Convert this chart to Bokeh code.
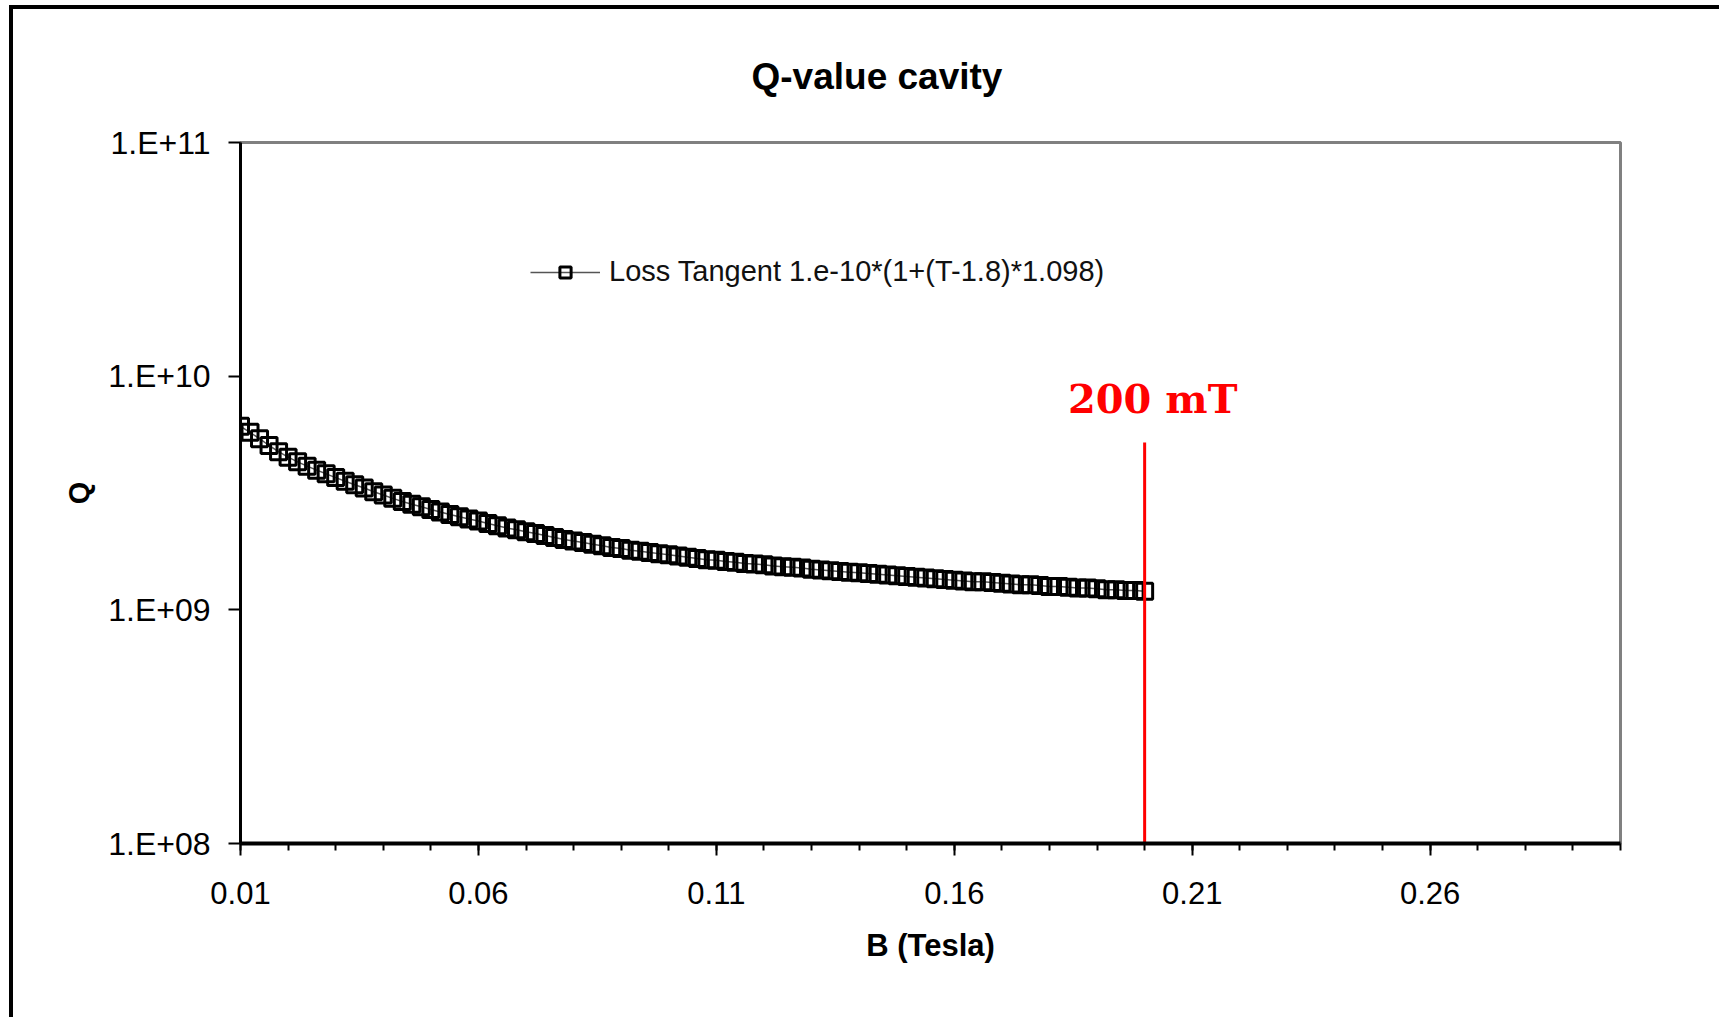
from bokeh.plotting import figure
from bokeh.models import FixedTicker, Label, Legend, LegendItem
from bokeh.embed import file_html
from bokeh.resources import INLINE

# ---- data ----
B_tesla = [
    0.010, 0.012, 0.014, 0.016, 0.018, 0.020, 0.022, 0.024, 0.026, 0.028,
    0.030, 0.032, 0.034, 0.036, 0.038, 0.040, 0.042, 0.044, 0.046, 0.048,
    0.050, 0.052, 0.054, 0.056, 0.058, 0.060, 0.062, 0.064, 0.066, 0.068,
    0.070, 0.072, 0.074, 0.076, 0.078, 0.080, 0.082, 0.084, 0.086, 0.088,
    0.090, 0.092, 0.094, 0.096, 0.098, 0.100, 0.102, 0.104, 0.106, 0.108,
    0.110, 0.112, 0.114, 0.116, 0.118, 0.120, 0.122, 0.124, 0.126, 0.128,
    0.130, 0.132, 0.134, 0.136, 0.138, 0.140, 0.142, 0.144, 0.146, 0.148,
    0.150, 0.152, 0.154, 0.156, 0.158, 0.160, 0.162, 0.164, 0.166, 0.168,
    0.170, 0.172, 0.174, 0.176, 0.178, 0.180, 0.182, 0.184, 0.186, 0.188,
    0.190, 0.192, 0.194, 0.196, 0.198, 0.200,
]
Q_value = [
    6.10e9, 5.75e9, 5.40e9, 5.05e9, 4.75e9, 4.50e9, 4.30e9, 4.12e9, 3.96e9, 3.82e9,
    3.68e9, 3.55e9, 3.43e9, 3.32e9, 3.20e9, 3.10e9, 3.00e9, 2.91e9, 2.83e9, 2.76e9,
    2.69e9, 2.62e9, 2.56e9, 2.50e9, 2.45e9, 2.40e9, 2.34e9, 2.29e9, 2.24e9, 2.20e9,
    2.16e9, 2.12e9, 2.08e9, 2.04e9, 2.00e9, 1.97e9, 1.94e9, 1.91e9, 1.88e9, 1.85e9,
    1.83e9, 1.80e9, 1.78e9, 1.76e9, 1.74e9, 1.72e9, 1.70e9, 1.68e9, 1.66e9, 1.64e9,
    1.63e9, 1.61e9, 1.60e9, 1.58e9, 1.57e9, 1.56e9, 1.54e9, 1.53e9, 1.52e9, 1.51e9,
    1.49e9, 1.48e9, 1.47e9, 1.46e9, 1.45e9, 1.44e9, 1.43e9, 1.42e9, 1.41e9, 1.40e9,
    1.39e9, 1.38e9, 1.37e9, 1.36e9, 1.35e9, 1.34e9, 1.33e9, 1.32e9, 1.32e9, 1.31e9,
    1.30e9, 1.29e9, 1.28e9, 1.28e9, 1.27e9, 1.26e9, 1.26e9, 1.25e9, 1.24e9, 1.24e9,
    1.23e9, 1.22e9, 1.22e9, 1.21e9, 1.21e9, 1.20e9,
]
series_label = "Loss Tangent 1.e-10*(1+(T-1.8)*1.098)"
chart_title = "Q-value cavity"

x_major_ticks = [0.01, 0.06, 0.11, 0.16, 0.21, 0.26]
x_minor_ticks = [0.01, 0.02, 0.03, 0.04, 0.05, 0.06, 0.07, 0.08, 0.09, 0.10,
                 0.11, 0.12, 0.13, 0.14, 0.15, 0.16, 0.17, 0.18, 0.19, 0.20,
                 0.21, 0.22, 0.23, 0.24, 0.25, 0.26, 0.27, 0.28, 0.29, 0.30]
y_ticks = [1e8, 1e9, 1e10, 1e11]
y_tick_labels = ["1.E+08", "1.E+09", "1.E+10", "1.E+11"]

limit_B = 0.20          # 200 mT marker
limit_line_top_Q = 5.2e9
limit_text = "200 mT"
limit_text_Q = 8.0e9

FONT = "Liberation Sans"

p = figure(
    width=1710, height=1012,
    x_range=(0.01, 0.30), y_range=(1e8, 1e11),
    y_axis_type="log",
    output_backend="svg", toolbar_location=None,
    min_border_left=227, min_border_right=103,
    min_border_top=133, min_border_bottom=178,
)
p.margin = (5, 0, 0, 9)
p.styles = {"border-top": "4px solid black", "border-left": "4px solid black"}

# the trailing empty line gives the title panel extra height so the
# title can sit high above the frame without pushing the frame down
p.title.text = chart_title + "\n"
p.title.text_font = FONT
p.title.text_font_size = "37px"
p.title.text_font_style = "bold"
p.title.text_color = "black"
p.title.align = "left"
p.title.offset = 511
p.title.vertical_align = "top"
p.title.standoff = 6

p.grid.visible = False
p.outline_line_color = "#808080"
p.outline_line_width = 3
p.background_fill_color = "white"
p.border_fill_color = "white"

# x axis
xa = p.xaxis[0]
xa.ticker = FixedTicker(ticks=x_major_ticks, minor_ticks=x_minor_ticks)
xa.axis_label = "B (Tesla)"
xa.axis_label_text_font = FONT
xa.axis_label_text_font_size = "31px"
xa.axis_label_text_font_style = "bold"
xa.axis_label_text_color = "black"
xa.axis_label_standoff = 21
xa.major_label_text_font = FONT
xa.major_label_text_font_size = "31px"
xa.major_label_text_color = "black"
xa.major_label_standoff = 26
xa.axis_line_color = "black"
xa.axis_line_width = 4
xa.major_tick_in = 0
xa.major_tick_out = 12
xa.minor_tick_in = 0
xa.minor_tick_out = 7
xa.major_tick_line_width = 2
xa.minor_tick_line_width = 2
xa.major_tick_line_color = "black"
xa.minor_tick_line_color = "black"

# y axis
ya = p.yaxis[0]
ya.ticker = FixedTicker(ticks=y_ticks)
ya.major_label_overrides = {t: lab for t, lab in zip(y_ticks, y_tick_labels)}
ya.axis_label = "Q"
ya.axis_label_text_font = FONT
ya.axis_label_text_font_size = "29px"
ya.axis_label_text_font_style = "bold"
ya.axis_label_text_color = "black"
ya.axis_label_standoff = 10
ya.major_label_text_font = FONT
ya.major_label_text_font_size = "32px"
ya.major_label_text_color = "black"
ya.major_label_standoff = 18
ya.axis_line_color = "black"
ya.axis_line_width = 3
ya.major_tick_in = 0
ya.major_tick_out = 12
ya.major_tick_line_width = 2
ya.major_tick_line_color = "black"
ya.minor_tick_line_color = None

# series
r_line = p.line(B_tesla, Q_value, line_color="#555555", line_width=1.5)
r_sq = p.scatter(B_tesla, Q_value, marker="square", size=16,
                 line_color="black", line_width=3, fill_alpha=0)

legend = Legend(
    items=[LegendItem(label=series_label, renderers=[r_line, r_sq])],
    location=(280, 545),
    border_line_alpha=0, background_fill_alpha=0,
    label_text_font=FONT, label_text_font_size="29px",
    label_text_color="#111111",
    glyph_width=70, glyph_height=28, label_standoff=9,
    padding=10, margin=0,
)
p.add_layout(legend)

# 200 mT marker
p.segment(x0=[limit_B], y0=[1e8], x1=[limit_B], y1=[limit_line_top_Q],
          line_color="red", line_width=3)
p.add_layout(Label(x=limit_B, y=limit_text_Q, text=limit_text,
                   text_align="center", text_baseline="alphabetic",
                   x_offset=8, text_color="red", text_font_style="bold",
                   text_font="DejaVu Serif", text_font_size="40px"))

open("out.html", "w").write(file_html(p, INLINE))
